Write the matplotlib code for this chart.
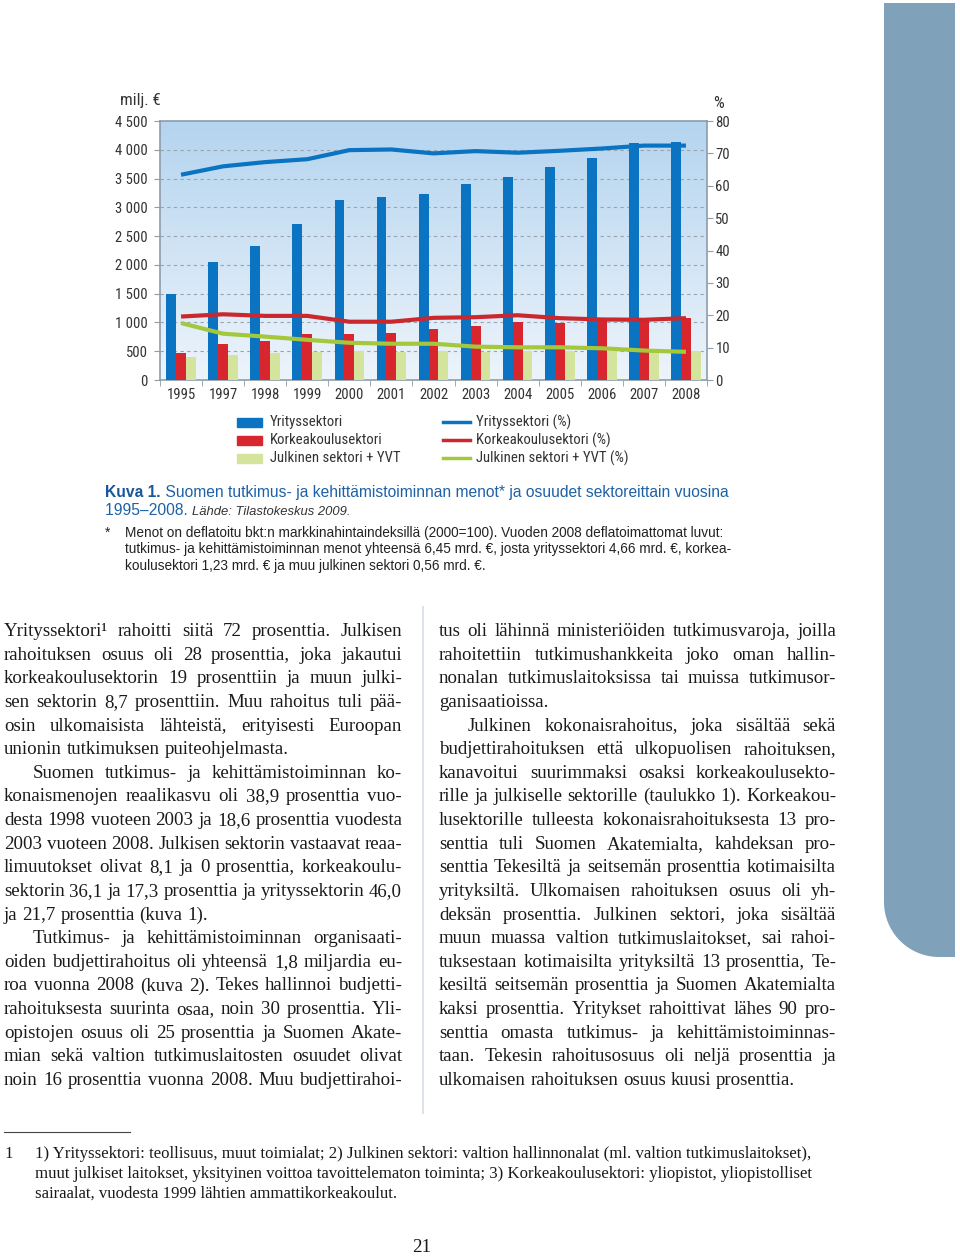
import numpy as np
import matplotlib
matplotlib.use("Agg")
import matplotlib.pyplot as plt
from matplotlib import font_manager as fm
from matplotlib.colors import LinearSegmentedColormap
from matplotlib.patches import Rectangle, PathPatch
from matplotlib.path import Path
from matplotlib.lines import Line2D


def have(name):
    try:
        fm.findfont(fm.FontProperties(family=name), fallback_to_default=False)
        return True
    except Exception:
        return False


# a narrow sans for the chart, if one is installed
NARROW, NARROW_STRETCH = None, 'normal'
for cand in ['Liberation Sans Narrow', 'Roboto Condensed', 'Open Sans Condensed', 'Noto Sans Condensed']:
    if have(cand):
        NARROW = cand
        break
if NARROW is None:
    for fam in ['DejaVu Sans', 'Noto Sans', 'Open Sans', 'Roboto']:
        try:
            f = fm.findfont(fm.FontProperties(family=fam, stretch='condensed'), fallback_to_default=False)
            if 'ondensed' in f or 'arrow' in f:
                NARROW, NARROW_STRETCH = fam, 'condensed'
                break
        except Exception:
            pass
if NARROW is None:
    NARROW = 'Liberation Sans' if have('Liberation Sans') else 'DejaVu Sans'
    NSIZE = 9.2
else:
    NSIZE = 10.6
SANS = 'Liberation Sans' if have('Liberation Sans') else 'DejaVu Sans'
SERIF = 'Liberation Serif' if have('Liberation Serif') else 'DejaVu Serif'

# data (milj. euroa, deflatoitu) and shares (%)
years = ['1995', '1997', '1998', '1999', '2000', '2001', '2002',
         '2003', '2004', '2005', '2006', '2007', '2008']
yritys = [1500, 2050, 2330, 2710, 3135, 3187, 3234, 3397, 3524, 3693, 3861, 4111, 4134]
korkea = [465, 628, 686, 791, 791, 814, 890, 930, 1000, 994, 1023, 1047, 1081]
julkinen = [407, 442, 471, 483, 500, 494, 512, 494, 512, 512, 512, 483, 500]
yritys_pct = [63.4, 66.0, 67.3, 68.2, 71.0, 71.2, 70.0, 70.7, 70.2, 70.8, 71.5, 72.4, 72.4]
korkea_pct = [19.6, 20.3, 19.8, 19.8, 18.0, 18.0, 19.2, 19.4, 20.0, 19.1, 18.7, 18.6, 19.1]
julkinen_pct = [17.6, 14.3, 13.4, 12.4, 11.5, 11.2, 11.2, 10.3, 10.1, 10.1, 9.8, 9.1, 8.7]
left_ticks = [0, 500, 1000, 1500, 2000, 2500, 3000, 3500, 4000, 4500]
right_ticks = [0, 10, 20, 30, 40, 50, 60, 70, 80]

BLUE = '#0a73c2'
RED = '#d8262f'
PALE = '#d5e49c'
LRED = '#c9282f'
LGREEN = '#a3c83c'
FRAME = '#8d9caa'
CAPBLUE = '#1d62a6'
NKW = dict(family=NARROW, stretch=NARROW_STRETCH, fontsize=NSIZE, color='#333333')

W, H = 960, 1257
fig = plt.figure(figsize=(W / 100, H / 100), dpi=100)
fig.patch.set_facecolor('white')

ov = fig.add_axes([0, 0, 1, 1])
ov.set_xlim(0, W)
ov.set_ylim(H, 0)
ov.axis('off')

# chart axes
x0, x1, ytop, ybot = 160, 707, 121, 380
ax = fig.add_axes([x0 / W, 1 - ybot / H, (x1 - x0) / W, (ybot - ytop) / H])
n = len(years)
x = np.arange(n)

grad = np.linspace(0, 1, 256).reshape(-1, 1)
cmap = LinearSegmentedColormap.from_list('bg', ['#edf4fb', '#b4d4ef'])
ax.imshow(grad, extent=[-0.5, n - 0.5, 0, 4500], origin='lower', aspect='auto',
          cmap=cmap, zorder=0)

bw = 0.235
ax.bar(x - bw, yritys, bw, color=BLUE, zorder=3)
ax.bar(x, korkea, bw, color=RED, zorder=3)
ax.bar(x + bw, julkinen, bw, color=PALE, zorder=3)

for v in left_ticks[1:-1]:
    ax.axhline(v, color='#98a4ae', lw=0.8, ls=(0, (3, 3)), zorder=1)

ax.set_xlim(-0.5, n - 0.5)
ax.set_ylim(0, 4500)
ax.set_yticks(left_ticks)
ax.set_yticklabels([f'{v:,}'.replace(',', ' ') for v in left_ticks])
ax.set_xticks(x)
ax.set_xticklabels(years)
ax.set_xticks(np.arange(n + 1) - 0.5, minor=True)
ax.tick_params(axis='x', which='major', length=0, pad=6)
ax.tick_params(axis='x', which='minor', length=4, color=FRAME, direction='out')
ax.tick_params(axis='y', length=4, color=FRAME, pad=5)
for lab in ax.get_xticklabels() + ax.get_yticklabels():
    lab.set_fontfamily(NARROW)
    lab.set_fontstretch(NARROW_STRETCH)
    lab.set_fontsize(NSIZE)
    lab.set_color('#333333')
for s in ax.spines.values():
    s.set_color(FRAME)
    s.set_linewidth(1.2)

ax2 = ax.twinx()
ax2.set_ylim(0, 80)
ax2.set_yticks(right_ticks)
ax2.plot(x, yritys_pct, color=BLUE, lw=3, zorder=4, solid_capstyle='butt')
ax2.plot(x, korkea_pct, color=LRED, lw=3, zorder=4, solid_capstyle='butt')
ax2.plot(x, julkinen_pct, color=LGREEN, lw=3, zorder=4, solid_capstyle='butt')
ax2.tick_params(axis='y', length=4, color=FRAME, pad=2)
for lab in ax2.get_yticklabels():
    lab.set_fontfamily(NARROW)
    lab.set_fontstretch(NARROW_STRETCH)
    lab.set_fontsize(NSIZE)
    lab.set_color('#333333')
for s in ax2.spines.values():
    s.set_visible(False)

big = dict(NKW)
big['fontsize'] = NSIZE * 1.15
ov.text(120, 100, 'milj. €', va='center', **big)
ov.text(713, 104, '%', va='center', **big)

# legend
leg_left = [('Yrityssektori', BLUE), ('Korkeakoulusektori', RED), ('Julkinen sektori + YVT', PALE)]
leg_right = [('Yrityssektori (%)', BLUE), ('Korkeakoulusektori (%)', LRED),
             ('Julkinen sektori + YVT (%)', LGREEN)]
for i, (lab, c) in enumerate(leg_left):
    yy = 422 + 18 * i
    ov.add_patch(Rectangle((237, yy - 4.5), 25, 9, color=c))
    ov.text(270, yy, lab, va='center', **NKW)
for i, (lab, c) in enumerate(leg_right):
    yy = 422 + 18 * i
    ov.add_line(Line2D([443, 470], [yy, yy], color=c, lw=2.5))
    ov.text(476, yy, lab, va='center', **NKW)

fig.canvas.draw()
r = fig.canvas.get_renderer()


def width(t):
    return t.get_window_extent(r).width


def seq(xs, y, parts, **kw):
    xx = xs
    for s, extra in parts:
        d = dict(kw)
        d.update(extra)
        t = ov.text(xx, y, s, va='baseline', **d)
        xx += width(t)
    return xx


# caption
seq(105, 497, [('Kuva 1.', dict(weight='bold', color='#17579a')),
               (' Suomen tutkimus- ja kehittämistoiminnan menot* ja osuudet sektoreittain vuosina', {})],
    family=SANS, fontsize=11.25, color=CAPBLUE)
seq(105, 515, [('1995–2008. ', dict(color=CAPBLUE, fontsize=11.25)),
               ('Lähde: Tilastokeskus 2009.', dict(style='italic', color='#333333', fontsize=9.4))],
    family=SANS)
fn = ['Menot on deflatoitu bkt:n markkinahintaindeksillä (2000=100). Vuoden 2008 deflatoimattomat luvut:',
      'tutkimus- ja kehittämistoiminnan menot yhteensä 6,45 mrd. €, josta yrityssektori 4,66 mrd. €, korkea-',
      'koulusektori 1,23 mrd. € ja muu julkinen sektori 0,56 mrd. €.']
ov.text(105, 537, '*', family=SANS, fontsize=9.8, color='#222222', va='baseline')
for i, s in enumerate(fn):
    ov.text(125, 537 + 16.5 * i, s, family=SANS, fontsize=9.8, color='#222222', va='baseline')

# body text
left_col = [
    ('Yrityssektori¹ rahoitti siitä 72 prosenttia. Julkisen', 0, True),
    ('rahoituksen osuus oli 28 prosenttia, joka jakautui', 0, True),
    ('korkeakoulusektorin 19 prosenttiin ja muun julki-', 0, True),
    ('sen sektorin 8,7 prosenttiin. Muu rahoitus tuli pää-', 0, True),
    ('osin ulkomaisista lähteistä, erityisesti Euroopan', 0, True),
    ('unionin tutkimuksen puiteohjelmasta.', 0, False),
    ('Suomen tutkimus- ja kehittämistoiminnan ko-', 1, True),
    ('konaismenojen reaalikasvu oli 38,9 prosenttia vuo-', 0, True),
    ('desta 1998 vuoteen 2003 ja 18,6 prosenttia vuodesta', 0, True),
    ('2003 vuoteen 2008. Julkisen sektorin vastaavat reaa-', 0, True),
    ('limuutokset olivat 8,1 ja 0 prosenttia, korkeakoulu-', 0, True),
    ('sektorin 36,1 ja 17,3 prosenttia ja yrityssektorin 46,0', 0, True),
    ('ja 21,7 prosenttia (kuva 1).', 0, False),
    ('Tutkimus- ja kehittämistoiminnan organisaati-', 1, True),
    ('oiden budjettirahoitus oli yhteensä 1,8 miljardia eu-', 0, True),
    ('roa vuonna 2008 (kuva 2). Tekes hallinnoi budjetti-', 0, True),
    ('rahoituksesta suurinta osaa, noin 30 prosenttia. Yli-', 0, True),
    ('opistojen osuus oli 25 prosenttia ja Suomen Akate-', 0, True),
    ('mian sekä valtion tutkimuslaitosten osuudet olivat', 0, True),
    ('noin 16 prosenttia vuonna 2008. Muu budjettirahoi-', 0, True),
]
right_col = [
    ('tus oli lähinnä ministeriöiden tutkimusvaroja, joilla', 0, True),
    ('rahoitettiin tutkimushankkeita joko oman hallin-', 0, True),
    ('nonalan tutkimuslaitoksissa tai muissa tutkimusor-', 0, True),
    ('ganisaatioissa.', 0, False),
    ('Julkinen kokonaisrahoitus, joka sisältää sekä', 1, True),
    ('budjettirahoituksen että ulkopuolisen rahoituksen,', 0, True),
    ('kanavoitui suurimmaksi osaksi korkeakoulusekto-', 0, True),
    ('rille ja julkiselle sektorille (taulukko 1). Korkeakou-', 0, True),
    ('lusektorille tulleesta kokonaisrahoituksesta 13 pro-', 0, True),
    ('senttia tuli Suomen Akatemialta, kahdeksan pro-', 0, True),
    ('senttia Tekesiltä ja seitsemän prosenttia kotimaisilta', 0, True),
    ('yrityksiltä. Ulkomaisen rahoituksen osuus oli yh-', 0, True),
    ('deksän prosenttia. Julkinen sektori, joka sisältää', 0, True),
    ('muun muassa valtion tutkimuslaitokset, sai rahoi-', 0, True),
    ('tuksestaan kotimaisilta yrityksiltä 13 prosenttia, Te-', 0, True),
    ('kesiltä seitsemän prosenttia ja Suomen Akatemialta', 0, True),
    ('kaksi prosenttia. Yritykset rahoittivat lähes 90 pro-', 0, True),
    ('senttia omasta tutkimus- ja kehittämistoiminnas-', 0, True),
    ('taan. Tekesin rahoitusosuus oli neljä prosenttia ja', 0, True),
    ('ulkomaisen rahoituksen osuus kuusi prosenttia.', 0, False),
]

BODY = dict(family=SERIF, fontsize=13.6, color='#1a1a1a', va='baseline')

# width of one space in the body font
_a = ov.text(10, 10, 'a a', **BODY)
_b = ov.text(10, 10, 'aa', **BODY)
SPACE = width(_a) - width(_b)
_a.remove()
_b.remove()


def column(lines, xl, xr, y0, dy):
    for i, (s, ind, just) in enumerate(lines):
        y = y0 + dy * i
        xs = xl + 29 * ind
        words = s.split(' ')
        ts = [ov.text(xs, y, w, **BODY) for w in words]
        ws = [width(t) for t in ts]
        gap = (xr - xs - sum(ws)) / (len(words) - 1) if (just and len(words) > 1) else SPACE
        gap = max(gap, SPACE * 0.6)
        xx = xs
        for t, w in zip(ts, ws):
            t.set_x(xx)
            xx += w + gap


column(left_col, 4, 402, 636, 23.63)
column(right_col, 439, 836, 636, 23.63)

# column separator
ov.add_line(Line2D([423, 423], [607, 1113], color='#d5dde6', lw=1.2))

# footnote
ov.add_line(Line2D([4, 130], [1132, 1132], color='#444444', lw=0.8))
FOOT = dict(family=SERIF, fontsize=12.1, color='#1a1a1a', va='baseline')
ov.text(4, 1158, '1', **FOOT)
foot = ['1) Yrityssektori: teollisuus, muut toimialat; 2) Julkinen sektori: valtion hallinnonalat (ml. valtion tutkimuslaitokset),',
        'muut julkiset laitokset, yksityinen voittoa tavoittelematon toiminta; 3) Korkeakoulusektori: yliopistot, yliopistolliset',
        'sairaalat, vuodesta 1999 lähtien ammattikorkeakoulut.']
for i, s in enumerate(foot):
    ov.text(35, 1158 + 19.7 * i, s, **FOOT)

ov.text(422, 1248, '21', family=SERIF, fontsize=13.6, color='#1a1a1a', ha='center', va='center')

# page tab
rad = 55
th = np.linspace(np.pi, 1.5 * np.pi, 24)
arc = [(884 + rad + rad * np.cos(t), 957 - rad - rad * np.sin(t)) for t in th[::-1]]
verts = [(884, 3), (955, 3), (955, 957), (884 + rad, 957)] + arc[1:] + [(884, 3)]
ov.add_patch(PathPatch(Path(verts), facecolor='#7fa1b9', edgecolor='none'))

fig.savefig('out.png', dpi=100, facecolor='white')
